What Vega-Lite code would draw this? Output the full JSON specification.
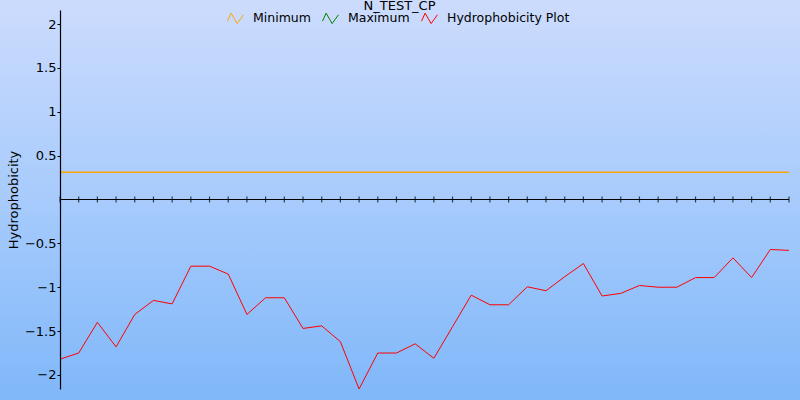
{
  "$schema": "https://vega.github.io/schema/vega-lite/v6.json",
  "autosize": {"type": "none"},
  "padding": {"left": 60, "top": 10, "right": 11, "bottom": 11},
  "width": 729,
  "height": 379,
  "title": {"text": "N_TEST_CP", "font": "DejaVu Sans", "fontSize": 13, "fontWeight": "normal", "color": "#000000", "anchor": "middle", "dx": -25, "dy": 5, "offset": -12},
  "config": {"view": {"stroke": null}, "font": "DejaVu Sans"},
  "datasets": {
    "hydro": [
      {"idx": 0, "value": -1.82, "series": "Hydrophobicity Plot"},
      {"idx": 1, "value": -1.75, "series": "Hydrophobicity Plot"},
      {"idx": 2, "value": -1.40, "series": "Hydrophobicity Plot"},
      {"idx": 3, "value": -1.68, "series": "Hydrophobicity Plot"},
      {"idx": 4, "value": -1.31, "series": "Hydrophobicity Plot"},
      {"idx": 5, "value": -1.15, "series": "Hydrophobicity Plot"},
      {"idx": 6, "value": -1.19, "series": "Hydrophobicity Plot"},
      {"idx": 7, "value": -0.76, "series": "Hydrophobicity Plot"},
      {"idx": 8, "value": -0.76, "series": "Hydrophobicity Plot"},
      {"idx": 9, "value": -0.85, "series": "Hydrophobicity Plot"},
      {"idx": 10, "value": -1.31, "series": "Hydrophobicity Plot"},
      {"idx": 11, "value": -1.12, "series": "Hydrophobicity Plot"},
      {"idx": 12, "value": -1.12, "series": "Hydrophobicity Plot"},
      {"idx": 13, "value": -1.47, "series": "Hydrophobicity Plot"},
      {"idx": 14, "value": -1.44, "series": "Hydrophobicity Plot"},
      {"idx": 15, "value": -1.62, "series": "Hydrophobicity Plot"},
      {"idx": 16, "value": -2.16, "series": "Hydrophobicity Plot"},
      {"idx": 17, "value": -1.75, "series": "Hydrophobicity Plot"},
      {"idx": 18, "value": -1.75, "series": "Hydrophobicity Plot"},
      {"idx": 19, "value": -1.645, "series": "Hydrophobicity Plot"},
      {"idx": 20, "value": -1.81, "series": "Hydrophobicity Plot"},
      {"idx": 21, "value": -1.45, "series": "Hydrophobicity Plot"},
      {"idx": 22, "value": -1.09, "series": "Hydrophobicity Plot"},
      {"idx": 23, "value": -1.20, "series": "Hydrophobicity Plot"},
      {"idx": 24, "value": -1.20, "series": "Hydrophobicity Plot"},
      {"idx": 25, "value": -0.995, "series": "Hydrophobicity Plot"},
      {"idx": 26, "value": -1.04, "series": "Hydrophobicity Plot"},
      {"idx": 27, "value": -0.88, "series": "Hydrophobicity Plot"},
      {"idx": 28, "value": -0.73, "series": "Hydrophobicity Plot"},
      {"idx": 29, "value": -1.10, "series": "Hydrophobicity Plot"},
      {"idx": 30, "value": -1.07, "series": "Hydrophobicity Plot"},
      {"idx": 31, "value": -0.98, "series": "Hydrophobicity Plot"},
      {"idx": 32, "value": -1.00, "series": "Hydrophobicity Plot"},
      {"idx": 33, "value": -1.00, "series": "Hydrophobicity Plot"},
      {"idx": 34, "value": -0.89, "series": "Hydrophobicity Plot"},
      {"idx": 35, "value": -0.89, "series": "Hydrophobicity Plot"},
      {"idx": 36, "value": -0.665, "series": "Hydrophobicity Plot"},
      {"idx": 37, "value": -0.89, "series": "Hydrophobicity Plot"},
      {"idx": 38, "value": -0.57, "series": "Hydrophobicity Plot"},
      {"idx": 39, "value": -0.58, "series": "Hydrophobicity Plot"}
    ],
    "limits": [
      {"idx": 0, "value": 0.31, "series": "Minimum"},
      {"idx": 39, "value": 0.31, "series": "Minimum"}
    ]
  },
  "layer": [
    {
      "data": {"values": [{}]},
      "mark": {
        "type": "rect",
        "clip": false,
        "fill": {
          "gradient": "linear", "x1": 0, "y1": 0, "x2": 0, "y2": 1,
          "stops": [
            {"offset": 0, "color": "#cddcfd"},
            {"offset": 0.5, "color": "#a7cbfc"},
            {"offset": 1, "color": "#7fb7f9"}
          ]
        }
      },
      "encoding": {
        "x": {"datum": -3.3, "type": "quantitative", "scale": {"domain": [0, 39], "nice": false, "zero": false}, "axis": null},
        "x2": {"datum": 39.7},
        "y": {
          "datum": 2.32, "type": "quantitative", "scale": {"domain": [-2.16, 2.16], "nice": false, "zero": false},
          "axis": {
            "zindex": 2,
            "title": "Hydrophobicity", "titleFont": "DejaVu Sans", "titleFontSize": 13, "titleFontWeight": "normal", "titleColor": "#000000", "titlePadding": 4,
            "values": [-2, -1.5, -1, -0.5, 0.5, 1, 1.5, 2],
            "format": "~g",
            "labelFont": "DejaVu Sans", "labelFontSize": 13, "labelColor": "#000000", "labelPadding": 1,
            "domainColor": "#000000", "domainWidth": 1.2, "tickColor": "#000000", "tickSize": 3, "tickWidth": 1,
            "grid": false
          }
        },
        "y2": {"datum": -2.32}
      }
    },
    {
      "data": {"name": "limits"},
      "mark": {"type": "line", "strokeWidth": 1.6},
      "encoding": {
        "x": {"field": "idx", "type": "quantitative", "scale": {"domain": [0, 39], "nice": false, "zero": false}},
        "y": {"field": "value", "type": "quantitative", "scale": {"domain": [-2.16, 2.16], "nice": false, "zero": false}},
        "color": {"field": "series", "type": "nominal"}
      }
    },
    {
      "data": {"name": "hydro"},
      "mark": {"type": "rule", "color": "#000000", "strokeWidth": 1.2},
      "encoding": {"y": {"datum": 0, "type": "quantitative", "scale": {"domain": [-2.16, 2.16], "nice": false, "zero": false}}}
    },
    {
      "data": {"name": "hydro"},
      "mark": {"type": "tick", "orient": "vertical", "color": "#000000", "thickness": 1.2, "size": 6},
      "encoding": {
        "x": {"field": "idx", "type": "quantitative", "scale": {"domain": [0, 39], "nice": false, "zero": false}},
        "y": {"datum": 0, "type": "quantitative", "scale": {"domain": [-2.16, 2.16], "nice": false, "zero": false}}
      }
    },
    {
      "data": {"name": "hydro"},
      "mark": {"type": "line", "strokeWidth": 1},
      "encoding": {
        "x": {"field": "idx", "type": "quantitative", "scale": {"domain": [0, 39], "nice": false, "zero": false}},
        "y": {"field": "value", "type": "quantitative", "scale": {"domain": [-2.16, 2.16], "nice": false, "zero": false}},
        "color": {
          "field": "series", "type": "nominal",
          "scale": {"domain": ["Minimum", "Maximum", "Hydrophobicity Plot"], "range": ["#ffa500", "#008000", "#ff0000"]},
          "legend": {
            "orient": "none", "direction": "horizontal", "legendX": 167, "legendY": -1, "title": null,
            "symbolType": "M-1,0.4L-0.55,-0.6L0.2,0.7L1,-0.4", "symbolSize": 256, "symbolStrokeWidth": 1,
            "labelFont": "DejaVu Sans", "labelFontSize": 12.5, "labelColor": "#000000", "labelOffset": 9, "columnPadding": 9, "padding": 0
          }
        }
      }
    }
  ]
}
